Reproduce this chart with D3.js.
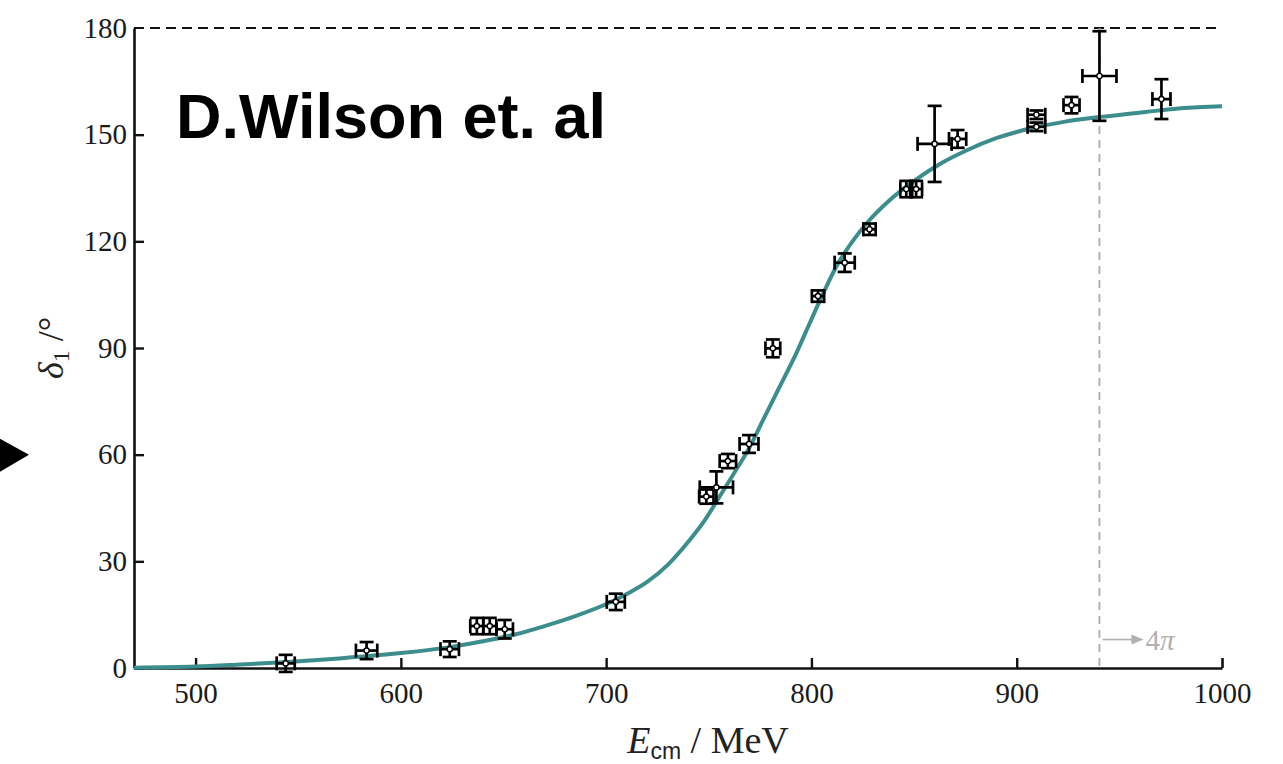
<!DOCTYPE html>
<html>
<head>
<meta charset="utf-8">
<script src="https://cdn.jsdelivr.net/npm/d3@7"></script>
<style>
  html, body { margin: 0; padding: 0; background: #fff; }
  svg { display: block; }
</style>
</head>
<body>
<svg id="chart" width="1283" height="764"></svg>
<script>
// P-wave pi-pi phase shift delta_1 versus centre-of-mass energy

// tick labels
const eTicks = [500, 600, 700, 800, 900, 1000];
const deltaTicks = [0, 30, 60, 90, 120, 150, 180];

// lattice points: energy (MeV), phase shift (deg) and their uncertainties
const energies = [543.9, 583.3, 623.8, 637.0, 643.3, 650.6, 704.7, 748.8, 753.7, 759.3, 769.6, 781.2,
                  803.2, 816.2, 828.3, 846.2, 851.0, 860.0, 871.2, 909.6, 909.6, 926.7, 940.3, 970.5];
const phases   = [1.3, 4.9, 5.3, 11.8, 11.8, 10.9, 18.6, 48.2, 50.8, 58.2, 63.0, 89.9,
                  104.6, 114.0, 123.4, 134.7, 134.7, 147.4, 148.8, 155.6, 152.2, 158.3, 166.5, 160.0];
const energyErr = [4.4, 5.2, 4.5, 3.2, 3.2, 4.0, 4.4, 3.5, 8.1, 4.0, 4.6, 3.6,
                   3.0, 4.9, 3.0, 2.9, 2.9, 8.3, 4.2, 4.3, 4.3, 3.9, 8.3, 4.4];
const phaseErr  = [2.4, 2.4, 2.2, 2.3, 2.3, 2.6, 2.3, 2.0, 4.5, 2.0, 2.5, 2.5,
                   1.6, 2.6, 1.6, 2.3, 2.3, 10.7, 2.5, 1.2, 1.2, 2.3, 12.6, 5.6];

// fitted curve, sampled along energy
const curveE     = [470, 500, 522, 545, 570, 591, 600, 623, 640, 656, 670, 685, 701, 710, 720, 730, 740, 748, 755, 762, 770,
                    776.4, 784.5, 792.6, 799.1, 805.6, 812, 820, 828, 837, 850, 863, 876, 890, 907, 923, 941, 963, 980, 1000];
const curveDelta = [0.1, 0.4, 1.0, 1.7, 2.7, 3.7, 4.2, 5.8, 7.5, 9.5, 11.8, 14.6, 18.2, 20.8, 24.2, 29.0, 35.5, 41.5, 48.0, 54.5, 62.2,
                    69.7, 79.1, 88.5, 96.9, 105.2, 112.8, 120.0, 125.8, 131.0, 137.0, 141.9, 145.7, 149.0, 151.8, 153.6, 155.0, 156.4, 157.4, 158.0];

// four-pion threshold
const thresholdE = [940.3];

const svg = d3.select("#chart");
const x = d3.scaleLinear().domain([470, 1000]).range([134, 1222]);
const y = d3.scaleLinear().domain([0, 180]).range([668, 28]);

const serif = "'Liberation Serif', 'DejaVu Serif', serif";

// dashed line at 180 degrees
svg.append("line")
  .attr("x1", x(470)).attr("x2", x(1000))
  .attr("y1", y(180)).attr("y2", y(180))
  .attr("stroke", "#111").attr("stroke-width", 2.2)
  .attr("stroke-dasharray", "10,6");

// threshold marker
svg.selectAll("line.thr").data(thresholdE).join("line")
  .attr("class", "thr")
  .attr("x1", d => x(d)).attr("x2", d => x(d))
  .attr("y1", y(180)).attr("y2", y(0))
  .attr("stroke", "#ababab").attr("stroke-width", 1.8)
  .attr("stroke-dasharray", "8,6");

const thrG = svg.append("g").attr("fill", "#b0b0b0").attr("stroke", "#b0b0b0");
thrG.append("line")
  .attr("x1", x(thresholdE[0]) + 3).attr("x2", x(thresholdE[0]) + 34)
  .attr("y1", y(8)).attr("y2", y(8)).attr("stroke-width", 1.6);
thrG.append("path")
  .attr("d", `M${x(thresholdE[0]) + 44},${y(8)} l-12,-5 l0,10 z`)
  .attr("stroke", "none");
thrG.append("text")
  .attr("x", x(thresholdE[0]) + 46).attr("y", y(8) + 10)
  .attr("stroke", "none")
  .attr("font-family", serif).attr("font-size", 29)
  .text("4")
  .append("tspan").attr("font-style", "italic").text("π");

// axes
const xAxis = d3.axisBottom(x).tickValues(eTicks).tickFormat(d3.format("d"))
  .tickSizeInner(-10).tickSizeOuter(0).tickPadding(14);
const yAxis = d3.axisLeft(y).tickValues(deltaTicks).tickFormat(d3.format("d"))
  .tickSizeInner(-10).tickSizeOuter(0).tickPadding(7);

const gx = svg.append("g").attr("transform", `translate(0,${y(0)})`).call(xAxis);
const gy = svg.append("g").attr("transform", `translate(${x(470)},0)`).call(yAxis);

[gx, gy].forEach(g => {
  g.select(".domain").attr("stroke", "#111").attr("stroke-width", 2.6);
  g.selectAll(".tick line").attr("stroke", "#111").attr("stroke-width", 2.4);
  g.selectAll(".tick text")
    .attr("font-family", serif).attr("font-size", 29).attr("fill", "#1a1a1a");
});
gy.selectAll(".tick line").filter(d => d === 180).remove();
gx.selectAll(".tick line").filter(d => d === 1000).attr("stroke-width", 2.6);

// fitted curve
const line = d3.line()
  .x((d, i) => x(curveE[i]))
  .y(d => y(d))
  .curve(d3.curveMonotoneX);

svg.append("path")
  .datum(curveDelta)
  .attr("d", line)
  .attr("fill", "none")
  .attr("stroke", "#3c8d8d")
  .attr("stroke-width", 4);

// data points with error bars
const cap = 7;
const pts = svg.append("g").attr("stroke", "#000").attr("stroke-width", 2.7).attr("fill", "none");
energies.forEach((e, i) => {
  const cx = x(e), cy = y(phases[i]);
  const x0 = x(e - energyErr[i]), x1 = x(e + energyErr[i]);
  const y0 = y(phases[i] - phaseErr[i]), y1 = y(phases[i] + phaseErr[i]);
  const g = pts.append("g");
  g.append("line").attr("x1", x0).attr("x2", x1).attr("y1", cy).attr("y2", cy);
  g.append("line").attr("x1", cx).attr("x2", cx).attr("y1", y0).attr("y2", y1);
  g.append("line").attr("x1", x0).attr("x2", x0).attr("y1", cy - cap).attr("y2", cy + cap);
  g.append("line").attr("x1", x1).attr("x2", x1).attr("y1", cy - cap).attr("y2", cy + cap);
  g.append("line").attr("x1", cx - cap).attr("x2", cx + cap).attr("y1", y0).attr("y2", y0);
  g.append("line").attr("x1", cx - cap).attr("x2", cx + cap).attr("y1", y1).attr("y2", y1);
});
pts.selectAll("circle").data(energies).join("circle")
  .attr("cx", d => x(d))
  .attr("cy", (d, i) => y(phases[i]))
  .attr("r", 2.6)
  .attr("fill", "#fff")
  .attr("stroke-width", 1.4);

// axis titles
const xl = svg.append("text")
  .attr("x", 708).attr("y", 753)
  .attr("text-anchor", "middle")
  .attr("font-family", serif).attr("font-size", 38).attr("fill", "#222");
xl.append("tspan").attr("font-style", "italic").text("E");
xl.append("tspan").attr("font-family", "'Liberation Sans', sans-serif").attr("font-size", 23).attr("dy", 6).text("cm");
xl.append("tspan").attr("dy", -6).text(" / MeV");

const yl = svg.append("text")
  .attr("transform", `translate(63,${y(90)}) rotate(-90)`)
  .attr("text-anchor", "middle")
  .attr("font-family", serif).attr("font-size", 36).attr("fill", "#222");
yl.append("tspan").attr("font-style", "italic").text("δ");
yl.append("tspan").attr("font-size", 24).attr("dy", 6).text("1");
yl.append("tspan").attr("dy", -6).text(" /°");

// annotation
svg.append("text")
  .attr("x", 176).attr("y", 138)
  .attr("font-family", "'Liberation Sans', Arial, sans-serif")
  .attr("font-weight", "bold").attr("font-size", 63)
  .attr("fill", "#000")
  .text("D.Wilson et. al");

// pointer at the left edge
svg.append("path")
  .attr("d", `M0,${y(64.5)} L29,${y(60)} L0,${y(55.2)} Z`)
  .attr("fill", "#000");
</script>
</body>
</html>
